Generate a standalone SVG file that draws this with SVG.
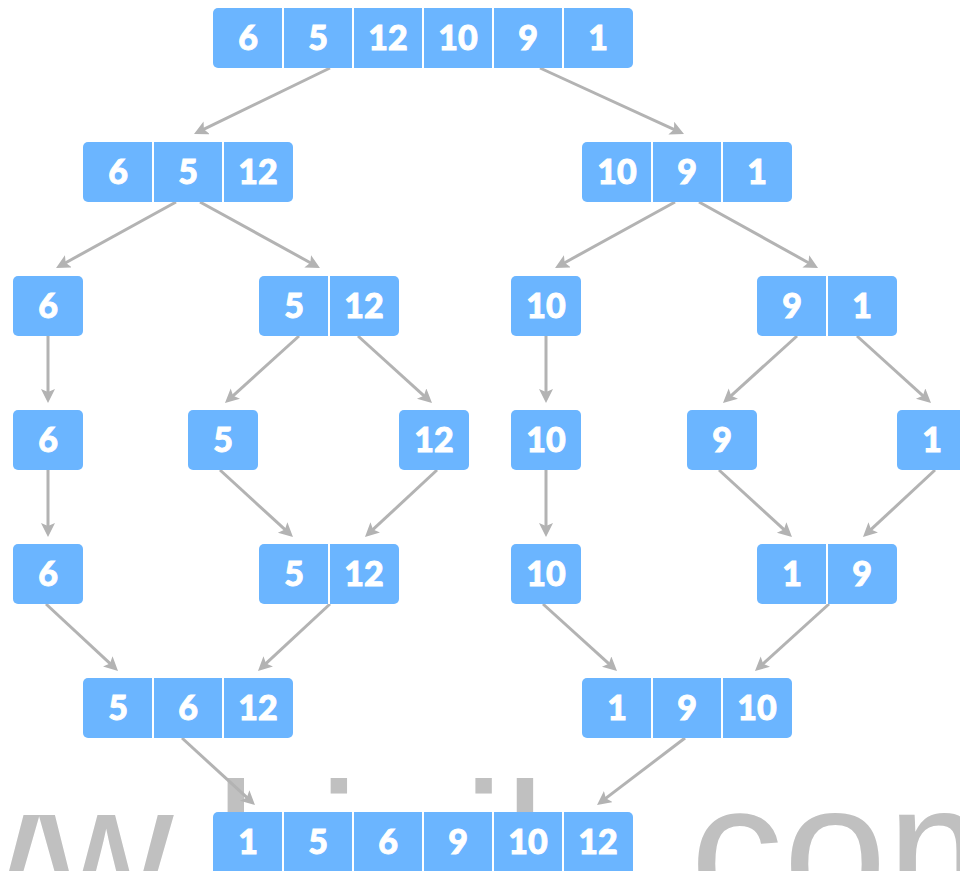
<svg xmlns="http://www.w3.org/2000/svg" width="960" height="871" viewBox="0 0 960 871">
<defs>
<style>
.n{fill:#6bb5ff}
.d{stroke:#ffffff;stroke-width:2}
.t{font-family:Lato,"Noto Sans",sans-serif;font-weight:900;font-size:34px;fill:#ffffff;stroke:#ffffff;stroke-width:0.9;text-anchor:middle}
.e{stroke:#b3b3b3;stroke-width:3;fill:none;marker-end:url(#ah)}
.wm{font-family:"Liberation Sans",Arial,sans-serif;font-size:186px;fill:#c0c0c0}
</style>
<marker id="ah" markerUnits="userSpaceOnUse" markerWidth="16" markerHeight="16" refX="4" refY="7" orient="auto">
<path d="M0,0 L14,7 L0,14 L3,7 z" fill="#b3b3b3"/>
</marker>
</defs>
<rect width="960" height="871" fill="#ffffff"/>
<text class="wm" x="-229.6" y="913">www.hinils.com</text>

<g id="connectors">
<line class="e" x1="330" y1="68" x2="203" y2="129.6"/>
<line class="e" x1="540" y1="68" x2="674.9" y2="129.8"/>
<line class="e" x1="176" y1="202" x2="64.8" y2="263.2"/>
<line class="e" x1="200" y1="202" x2="311.2" y2="263.2"/>
<line class="e" x1="675" y1="202" x2="563.8" y2="263.2"/>
<line class="e" x1="699" y1="202" x2="809.3" y2="263.2"/>
<line class="e" x1="48" y1="336" x2="48" y2="393"/>
<line class="e" x1="299" y1="336" x2="232.4" y2="396.3"/>
<line class="e" x1="358" y1="336" x2="424.6" y2="396.3"/>
<line class="e" x1="546" y1="336" x2="546" y2="393"/>
<line class="e" x1="797" y1="336" x2="730.4" y2="396.3"/>
<line class="e" x1="857" y1="336" x2="923.6" y2="396.3"/>
<line class="e" x1="48" y1="470" x2="48" y2="527"/>
<line class="e" x1="220" y1="470" x2="285.6" y2="530.2"/>
<line class="e" x1="437" y1="470" x2="372.3" y2="530.2"/>
<line class="e" x1="546" y1="470" x2="546" y2="527"/>
<line class="e" x1="719" y1="470" x2="784.6" y2="530.2"/>
<line class="e" x1="935" y1="470" x2="870.3" y2="530.2"/>
<line class="e" x1="46" y1="604" x2="110.7" y2="664.2"/>
<line class="e" x1="330" y1="604" x2="265.3" y2="664.2"/>
<line class="e" x1="543" y1="604" x2="609.6" y2="664.3"/>
<line class="e" x1="829" y1="604" x2="762.4" y2="664.3"/>
<line class="e" x1="182" y1="738" x2="247.6" y2="798.2"/>
<line class="e" x1="685" y1="738" x2="605" y2="798.9"/>
</g>

<g id="n0">
<rect class="n" x="213" y="8" width="420" height="60" rx="5"/>
<line class="d" x1="283" y1="8" x2="283" y2="68"/><line class="d" x1="353" y1="8" x2="353" y2="68"/><line class="d" x1="423" y1="8" x2="423" y2="68"/><line class="d" x1="493" y1="8" x2="493" y2="68"/><line class="d" x1="563" y1="8" x2="563" y2="68"/>
<text class="t" x="248" y="50">6</text><text class="t" x="318" y="50">5</text><text class="t" x="388" y="50">12</text><text class="t" x="458" y="50">10</text><text class="t" x="528" y="50">9</text><text class="t" x="598" y="50">1</text>
</g>

<g id="n1">
<rect class="n" x="83" y="142" width="210" height="60" rx="5"/>
<line class="d" x1="153" y1="142" x2="153" y2="202"/><line class="d" x1="223" y1="142" x2="223" y2="202"/>
<text class="t" x="118" y="184">6</text><text class="t" x="188" y="184">5</text><text class="t" x="258" y="184">12</text>
</g>
<g id="n2">
<rect class="n" x="582" y="142" width="210" height="60" rx="5"/>
<line class="d" x1="652" y1="142" x2="652" y2="202"/><line class="d" x1="722" y1="142" x2="722" y2="202"/>
<text class="t" x="617" y="184">10</text><text class="t" x="687" y="184">9</text><text class="t" x="757" y="184">1</text>
</g>

<g id="n3">
<rect class="n" x="13" y="276" width="70" height="60" rx="5"/>
<text class="t" x="48" y="318">6</text>
</g>
<g id="n4">
<rect class="n" x="259" y="276" width="140" height="60" rx="5"/>
<line class="d" x1="329" y1="276" x2="329" y2="336"/>
<text class="t" x="294" y="318">5</text><text class="t" x="364" y="318">12</text>
</g>
<g id="n5">
<rect class="n" x="511" y="276" width="70" height="60" rx="5"/>
<text class="t" x="546" y="318">10</text>
</g>
<g id="n6">
<rect class="n" x="757" y="276" width="140" height="60" rx="5"/>
<line class="d" x1="827" y1="276" x2="827" y2="336"/>
<text class="t" x="792" y="318">9</text><text class="t" x="862" y="318">1</text>
</g>

<g id="n7">
<rect class="n" x="13" y="410" width="70" height="60" rx="5"/>
<text class="t" x="48" y="452">6</text>
</g>
<g id="n8">
<rect class="n" x="188" y="410" width="70" height="60" rx="5"/>
<text class="t" x="223" y="452">5</text>
</g>
<g id="n9">
<rect class="n" x="399" y="410" width="70" height="60" rx="5"/>
<text class="t" x="434" y="452">12</text>
</g>
<g id="n10">
<rect class="n" x="511" y="410" width="70" height="60" rx="5"/>
<text class="t" x="546" y="452">10</text>
</g>
<g id="n11">
<rect class="n" x="687" y="410" width="70" height="60" rx="5"/>
<text class="t" x="722" y="452">9</text>
</g>
<g id="n12">
<rect class="n" x="897" y="410" width="70" height="60" rx="5"/>
<text class="t" x="932" y="452">1</text>
</g>

<g id="n13">
<rect class="n" x="13" y="544" width="70" height="60" rx="5"/>
<text class="t" x="48" y="586">6</text>
</g>
<g id="n14">
<rect class="n" x="259" y="544" width="140" height="60" rx="5"/>
<line class="d" x1="329" y1="544" x2="329" y2="604"/>
<text class="t" x="294" y="586">5</text><text class="t" x="364" y="586">12</text>
</g>
<g id="n15">
<rect class="n" x="511" y="544" width="70" height="60" rx="5"/>
<text class="t" x="546" y="586">10</text>
</g>
<g id="n16">
<rect class="n" x="757" y="544" width="140" height="60" rx="5"/>
<line class="d" x1="827" y1="544" x2="827" y2="604"/>
<text class="t" x="792" y="586">1</text><text class="t" x="862" y="586">9</text>
</g>

<g id="n17">
<rect class="n" x="83" y="678" width="210" height="60" rx="5"/>
<line class="d" x1="153" y1="678" x2="153" y2="738"/><line class="d" x1="223" y1="678" x2="223" y2="738"/>
<text class="t" x="118" y="720">5</text><text class="t" x="188" y="720">6</text><text class="t" x="258" y="720">12</text>
</g>
<g id="n18">
<rect class="n" x="582" y="678" width="210" height="60" rx="5"/>
<line class="d" x1="652" y1="678" x2="652" y2="738"/><line class="d" x1="722" y1="678" x2="722" y2="738"/>
<text class="t" x="617" y="720">1</text><text class="t" x="687" y="720">9</text><text class="t" x="757" y="720">10</text>
</g>

<g id="n19">
<rect class="n" x="213" y="812" width="420" height="66" rx="5"/>
<line class="d" x1="283" y1="812" x2="283" y2="878"/><line class="d" x1="353" y1="812" x2="353" y2="878"/><line class="d" x1="423" y1="812" x2="423" y2="878"/><line class="d" x1="493" y1="812" x2="493" y2="878"/><line class="d" x1="563" y1="812" x2="563" y2="878"/>
<text class="t" x="248" y="854">1</text><text class="t" x="318" y="854">5</text><text class="t" x="388" y="854">6</text><text class="t" x="458" y="854">9</text><text class="t" x="528" y="854">10</text><text class="t" x="598" y="854">12</text>
</g>
</svg>
